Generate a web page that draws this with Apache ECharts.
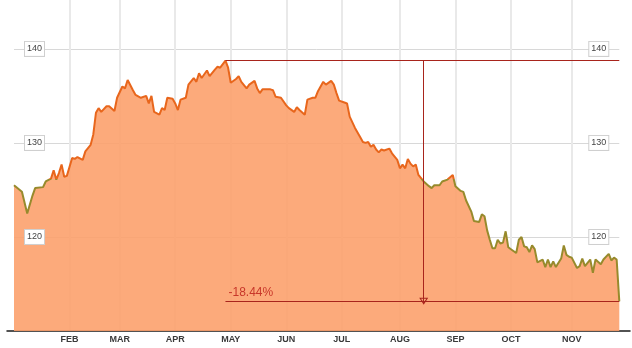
<!DOCTYPE html>
<html>
<head>
<meta charset="utf-8">
<script src="https://cdn.jsdelivr.net/npm/echarts@6/dist/echarts.min.js"></script>
<style>html,body{margin:0;padding:0;background:#fff}#c{width:632px;height:348px}</style>
</head>
<body>
<div id="c"></div>
<script>
// Trading calendar (2014)
const FIRST_DAY = '2014-01-02';
const LAST_DAY = '2014-11-28';
const HOLIDAYS = ['2014-01-20','2014-02-17','2014-04-18','2014-05-26','2014-07-04','2014-09-01','2014-11-27'];
const MONTH_LABELS = ['JAN','FEB','MAR','APR','MAY','JUN','JUL','AUG','SEP','OCT','NOV','DEC'];
const Y_TICKS = [120, 130, 140];

// Price readings: trading-day index -> value
const pointIndex = [0,3,5,7,8,11,12,14,15,16,17,18,19,20,22,23,24,26,27,29,30,31,32,33,35,36,38,39,41,42,43,45,46,48,50,51,52,53,55,56,57,58,60,61,62,63,65,66,68,69,70,71,73,74,76,77,78,80,81,82,84,85,86,88,89,91,92,93,94,97,98,99,101,103,104,106,107,108,110,111,113,114,115,117,118,120,121,122,123,125,126,127,129,131,132,133,134,135,136,137,138,139,140,142,143,145,146,147,148,149,150,151,152,153,155,157,158,159,161,162,164,166,167,169,170,171,173,174,176,177,178,179,180,181,182,183,184,185,186,187,188,190,191,192,193,194,195,196,197,198,200,201,202,203,204,205,207,208,209,210,211,213,214,215,216,218,219,220,222,223,225,226,227,228,229];
const pointValue = [125.5,124.8,122.5,124.4,125.2,125.3,125.9,126.2,127.1,126.1,126.8,127.7,126.4,126.5,128.4,128.3,128.5,128.2,129.1,129.8,130.9,133.2,133.7,133.3,133.9,133.9,133.4,134.8,136.0,135.8,136.7,135.6,135.1,134.8,135.0,134.2,135.0,133.3,133.0,133.7,133.5,134.8,134.7,134.2,133.5,134.6,134.8,136.2,136.9,136.5,137.4,136.9,137.7,137.1,137.8,138.1,138.0,138.75,138.0,136.4,136.8,137.1,136.5,135.8,136.2,136.6,135.8,135.3,135.7,135.7,135.6,134.9,134.8,134.0,133.7,133.3,133.8,133.5,133.0,134.6,134.8,134.8,135.5,136.5,136.2,136.6,136.2,135.3,134.5,134.3,134.2,132.8,131.6,130.6,130.1,130.0,130.1,129.6,129.8,129.3,129.0,129.3,129.2,129.4,128.9,128.2,127.3,127.7,127.3,128.3,127.8,127.5,127.7,126.6,125.9,125.4,125.2,125.5,125.5,125.9,126.1,126.6,125.4,124.9,124.8,123.9,122.7,121.7,121.6,122.4,122.2,120.7,119.7,118.8,118.8,119.7,119.3,119.4,120.6,118.9,118.7,118.3,119.7,120.0,119.0,118.9,118.4,119.1,118.7,117.3,117.6,116.8,117.6,116.8,117.4,116.8,117.7,119.1,118.1,117.9,117.8,116.7,116.9,117.7,116.9,117.6,116.2,117.6,117.1,117.6,118.2,117.5,117.8,117.6,113.17];

// Line colour changes below this level
const COLOR_SPLIT_VALUE = 126.2;

// Build trading-day categories
const categories = [];
(function(){
  const start = Date.parse(FIRST_DAY + 'T00:00:00Z');
  const end = Date.parse(LAST_DAY + 'T00:00:00Z');
  for (let t = start; t <= end; t += 86400000) {
    const d = new Date(t);
    const wd = d.getUTCDay();
    const s = d.toISOString().slice(0,10);
    if (wd === 0 || wd === 6 || HOLIDAYS.indexOf(s) >= 0) continue;
    categories.push(s);
  }
})();

function isMonthStart(i) {
  if (i <= 0) return false;
  return categories[i].slice(5,7) !== categories[i-1].slice(5,7);
}

const seriesData = pointIndex.map((i, k) => [i, pointValue[k]]);
let peakK = 0;
pointValue.forEach((v, k) => { if (v > pointValue[peakK]) peakK = k; });
const peakIdx = pointIndex[peakK], peakVal = pointValue[peakK];
const lastIdx = pointIndex[pointIndex.length-1], lastVal = pointValue[pointValue.length-1];
const minVal = Math.min.apply(null, pointValue);
const midIdx = (peakIdx + lastIdx) / 2;
const pct = ((lastVal / peakVal - 1) * 100).toFixed(2) + '%';
const split = (peakVal - COLOR_SPLIT_VALUE) / (peakVal - minVal);

const ORANGE = '#e8661c', OLIVE = '#978a2c';
const lineGradient = new echarts.graphic.LinearGradient(0, 0, 0, 1, [
  {offset: 0, color: ORANGE}, {offset: split, color: ORANGE},
  {offset: split, color: OLIVE}, {offset: 1, color: OLIVE}
]);

const FONT = '"Liberation Sans", Arial, sans-serif';
const RED = '#a8241c';

const yLabelStyle = {
  inside: true,
  margin: 11,
  fontSize: 9,
  fontFamily: FONT,
  color: '#444',
  backgroundColor: '#fff',
  borderColor: '#cfcfcf',
  borderWidth: 1,
  padding: [3, 2, 2, 2],
  formatter: v => (Y_TICKS.indexOf(v) >= 0 ? String(v) : '')
};
const yBase = {
  type: 'value', gridIndex: 0, min: 110, max: 145.2, interval: 10,
  axisLine: {show: false}, axisTick: {show: false}
};

const chart = echarts.init(document.getElementById('c'), null, {renderer: 'canvas'});
chart.setOption({
  animation: false,
  grid: [
    {left: 14, right: 12.7, top: 0, bottom: 17},
    {left: 7, right: 2, top: 331, bottom: 17}
  ],
  xAxis: [
    {
      type: 'category', gridIndex: 0, data: categories, boundaryGap: false,
      axisLine: {show: false},
      axisTick: {show: false},
      splitLine: {show: true, interval: (i) => isMonthStart(i), lineStyle: {color: '#e9e9e9', width: 2}},
      axisLabel: {
        interval: (i) => isMonthStart(i),
        formatter: (v) => MONTH_LABELS[parseInt(v.slice(5,7), 10) - 1],
        fontSize: 9, fontWeight: 'bold', fontFamily: FONT, color: '#3a3a3a', margin: 4
      }
    },
    {
      type: 'value', gridIndex: 1, min: 0, max: 1,
      axisLine: {show: true, onZero: false, lineStyle: {color: '#1a1a1a', width: 1.5}},
      axisTick: {show: false}, axisLabel: {show: false}, splitLine: {show: false}
    }
  ],
  yAxis: [
    Object.assign({}, yBase, {position: 'left', z: 10, splitLine: {show: false},
      axisLabel: Object.assign({}, yLabelStyle, {showMinLabel: false, showMaxLabel: false})}),
    Object.assign({}, yBase, {position: 'right', z: 10, splitLine: {show: false},
      axisLabel: Object.assign({}, yLabelStyle, {showMinLabel: false, showMaxLabel: false})}),
    Object.assign({}, yBase, {position: 'left', z: 0, axisLabel: {show: false},
      splitLine: {show: true, showMinLine: false, showMaxLine: false, lineStyle: {color: '#d8d8d8', width: 1}}}),
    {type: 'value', gridIndex: 1, show: false, min: 0, max: 1}
  ],
  series: [{
    type: 'line',
    xAxisIndex: 0, yAxisIndex: 0,
    data: seriesData,
    showSymbol: false,
    symbol: 'none',
    lineStyle: {width: 2, color: lineGradient},
    itemStyle: {color: ORANGE},
    areaStyle: {color: 'rgba(252,161,109,0.9)', opacity: 1},
    z: 3,
    markLine: {
      silent: true,
      symbol: 'none',
      lineStyle: {color: RED, width: 1, type: 'solid'},
      label: {show: false},
      emphasis: {disabled: true},
      data: [
        [{coord: [peakIdx, peakVal]}, {coord: [lastIdx, peakVal]}],
        [{coord: [peakIdx, lastVal],
          label: {show: true, formatter: pct, position: 'insideStartTop', distance: 3,
                  fontSize: 12, fontFamily: FONT, color: '#c8372a'}},
         {coord: [lastIdx, lastVal]}],
        [{coord: [midIdx, peakVal], symbol: 'none'},
         {coord: [midIdx, lastVal], symbol: 'path://M5,0 L10,10 L0,10 Z M5,3.4 L1.9,8.5 L8.1,8.5 Z', symbolSize: [9, 7]}]
      ]
    }
  }]
});
</script>
</body>
</html>
